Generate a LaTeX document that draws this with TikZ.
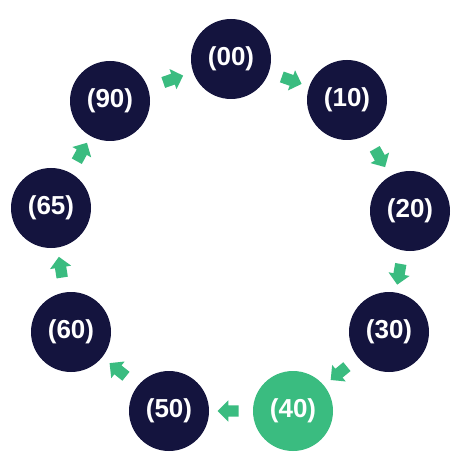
\documentclass[tikz,border=0pt]{standalone}
\usepackage{fontspec}
\setmainfont{Liberation Sans}
\usetikzlibrary{shapes.arrows}
\definecolor{navy}{RGB}{20,20,62}
\definecolor{mint}{RGB}{58,188,128}
\tikzset{
  stage/.style={circle, fill=navy, draw=none, minimum size=80pt, inner sep=0pt,
    text=white, font=\fontsize{26}{26}\selectfont\bfseries},
  hot/.style={stage, fill=mint},
  blockarrow/.style={single arrow, fill=mint, draw=none, inner xsep=0pt, inner ysep=5.5pt,
    minimum height=21pt, single arrow head extend=5pt, sloped, allow upside down}
}
\begin{document}
\begin{tikzpicture}[x=1pt,y=-1pt]
\useasboundingbox[fill=white] (0,0) rectangle (457,454);
\node[stage] (n00) at (231,59) {(00)};
\node[stage] (n10) at (347,100) {(10)};
\node[stage] (n20) at (410,211) {(20)};
\node[stage] (n30) at (389,332) {(30)};
\node[hot]   (n40) at (293,411) {(40)};
\node[stage] (n50) at (169,411) {(50)};
\node[stage] (n60) at (71,332) {(60)};
\node[stage] (n65) at (51,208) {(65)};
\node[stage] (n90) at (110,101) {(90)};
\path (n90) -- node[blockarrow] (a1) {} (n00);
\path (n00) -- node[blockarrow] (a2) {} (n10);
\path (n10) -- node[blockarrow] (a3) {} (n20);
\path (n20) -- node[blockarrow] (a4) {} (n30);
\path (n30) -- node[blockarrow] (a5) {} (n40);
\path (n40) -- node[blockarrow] (a6) {} (n50);
\path (n50) -- node[blockarrow] (a7) {} (n60);
\path (n60) -- node[blockarrow] (a8) {} (n65);
\path (n65) -- node[blockarrow] (a9) {} (n90);
\end{tikzpicture}
\end{document}
